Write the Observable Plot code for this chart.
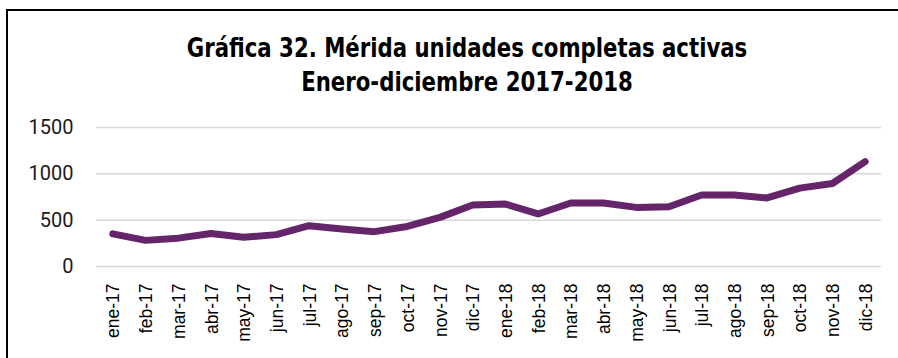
<!DOCTYPE html>
<html>
<head>
<meta charset="utf-8">
<script src="https://cdn.jsdelivr.net/npm/d3@7"></script>
<script src="https://cdn.jsdelivr.net/npm/@observablehq/plot@0.6"></script>
<style>
  html, body { margin: 0; padding: 0; background: #fff; }
  body { width: 898px; height: 358px; position: relative; overflow: hidden; }
  #frame {
    position: absolute; left: 6px; top: 9px; width: 960px; height: 400px;
    border-top: 2px solid #000; border-left: 2px solid #000;
  }
  #title {
    position: absolute; left: 0; top: 31px; width: 934px; text-align: center;
    font-family: "DejaVu Sans Condensed", "DejaVu Sans", sans-serif;
    font-weight: bold; font-size: 27px; line-height: 34px; color: #000;
    transform: scaleX(0.875); transform-origin: 467px 0;
  }
  #chart { position: absolute; left: 0; top: 110px; }
</style>
</head>
<body>
<div id="frame"></div>
<div id="title">Gráfica 32. Mérida unidades completas activas<br>Enero-diciembre 2017-2018</div>
<div id="chart"></div>
<script>
// Months on the x axis (Spanish abbreviations)
const months = [
  "ene-17", "feb-17", "mar-17", "abr-17", "may-17", "jun-17",
  "jul-17", "ago-17", "sep-17", "oct-17", "nov-17", "dic-17",
  "ene-18", "feb-18", "mar-18", "abr-18", "may-18", "jun-18",
  "jul-18", "ago-18", "sep-18", "oct-18", "nov-18", "dic-18"
];
// Active complete units in Mérida per month
const units = [
  352, 282, 306, 356, 316, 344, 440, 405, 376, 432, 530, 663,
  674, 567, 685, 685, 638, 645, 771, 771, 740, 846, 896, 1132
];
// Y axis ticks
const yTicks = [0, 500, 1000, 1500];

const data = months.map((m, i) => ({month: m, value: units[i]}));

const chart = Plot.plot({
  width: 898,
  height: 248,
  marginLeft: 96,
  marginRight: 17,
  marginTop: 17,
  marginBottom: 92,
  style: {background: "transparent", overflow: "visible"},
  // one point per month, centred in equal slots across the plot width
  x: {type: "point", domain: months, padding: 0.5, round: false, label: null},
  y: {domain: [0, 1500], range: [156, 17], label: null},
  marks: [
    Plot.ruleY(yTicks, {stroke: "#d9d9d9", strokeWidth: 1.5}),
    Plot.axisY({
      ticks: yTicks, tickSize: 0, tickPadding: 23, tickFormat: d => String(d),
      fontSize: 20, fontFamily: "Roboto", fill: "#1a1a1a", label: null
    }),
    Plot.axisX({
      tickSize: 0, tickPadding: 17, tickRotate: -90, dx: 1,
      fontSize: 17.5, fontFamily: "Liberation Sans", fill: "#000", label: null
    }),
    Plot.line(data, {
      x: "month", y: "value", stroke: "#65256b", strokeWidth: 7,
      strokeLinecap: "round", strokeLinejoin: "round"
    })
  ]
});
document.getElementById("chart").appendChild(chart);
</script>
</body>
</html>
